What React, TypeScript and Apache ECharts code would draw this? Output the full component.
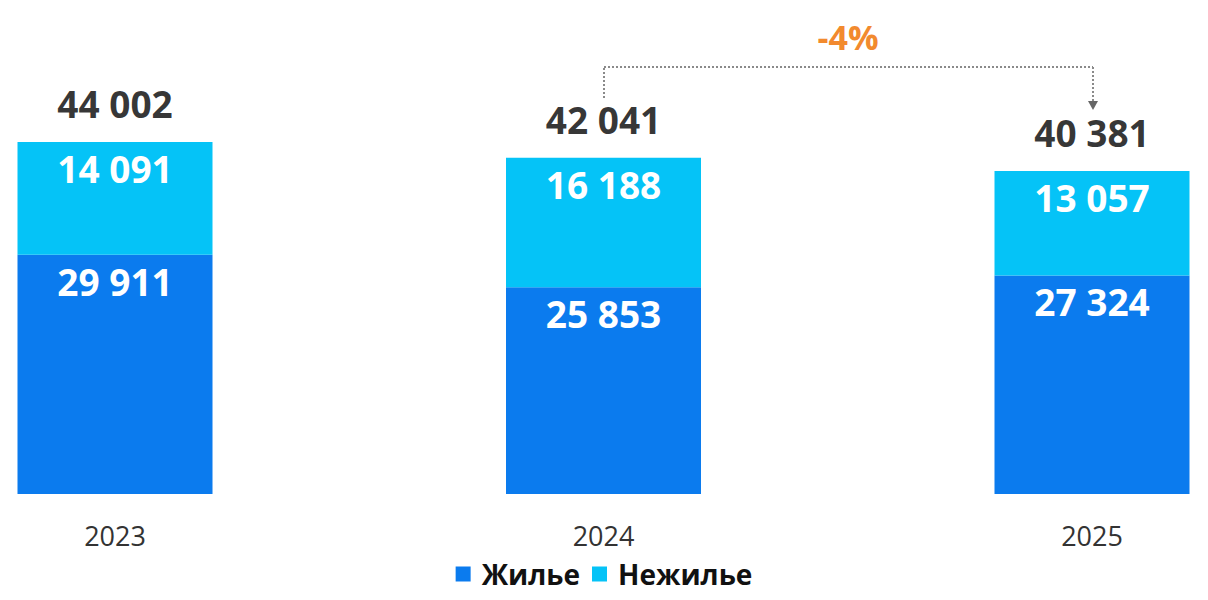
import React, { useEffect, useRef } from "react";
import * as echarts from "echarts";

const years = ["2023", "2024", "2025"];
const residential = [29911, 25853, 27324];
const nonResidential = [14091, 16188, 13057];
const totals = [44002, 42041, 40381];
const changeLabel = "-4%";

const fmt = (v: number) => String(v).replace(/\B(?=(\d{3})+(?!\d))/g, " ");
const FONT = "'Open Sans', 'DejaVu Sans', sans-serif";

export default function App() {
  const ref = useRef<HTMLDivElement>(null);
  useEffect(() => {
    if (!ref.current) return;
    const chart = echarts.init(ref.current, null, { renderer: "svg" });
    const dash = { stroke: "#8a8a8a", lineWidth: 2, lineDash: [2, 2] };
    chart.setOption({
      animation: false,
      textStyle: { fontFamily: FONT },
      grid: { left: 115, right: 116, top: 94, bottom: 106 },
      legend: {
        data: ["Жилье", "Нежилье"],
        bottom: 7,
        left: "center",
        icon: "rect",
        itemWidth: 15,
        itemHeight: 15,
        itemGap: 12,
        textStyle: { fontFamily: FONT, fontSize: 28, fontWeight: "bold", color: "#111", padding: [0, 0, 0, 6] },
      },
      xAxis: {
        type: "category",
        data: years,
        boundaryGap: false,
        axisLine: { show: false },
        axisTick: { show: false },
        axisLabel: { color: "#333", fontSize: 27, margin: 28, fontFamily: FONT },
      },
      yAxis: { type: "value", min: 0, max: 50000, show: false, splitLine: { show: false } },
      series: [
        {
          name: "Жилье",
          type: "bar",
          stack: "total",
          barWidth: 195,
          clip: false,
          data: residential,
          itemStyle: { color: "#0B7BEE" },
          label: {
            show: true,
            position: "insideTop",
            distance: 8,
            color: "#fff",
            fontSize: 37,
            fontWeight: "bold",
            fontFamily: FONT,
            formatter: (p: any) => fmt(p.value),
          },
        },
        {
          name: "Нежилье",
          type: "bar",
          stack: "total",
          barWidth: 195,
          clip: false,
          data: nonResidential,
          itemStyle: { color: "#05C3F7" },
          label: {
            show: true,
            position: "insideTop",
            distance: 8,
            color: "#fff",
            fontSize: 37,
            fontWeight: "bold",
            fontFamily: FONT,
            formatter: (p: any) => fmt(p.value),
          },
        },
        {
          name: "Итого",
          type: "scatter",
          data: totals,
          symbolSize: 0,
          clip: false,
          itemStyle: { color: "#000" },
          label: {
            show: true,
            position: "top",
            distance: 20,
            color: "#000",
            fontSize: 37,
            fontWeight: "bold",
            fontFamily: FONT,
            formatter: (p: any) => fmt(p.value),
          },
        },
      ],
      graphic: [
        { type: "line", shape: { x1: 604, y1: 98, x2: 604, y2: 67 }, style: dash },
        { type: "line", shape: { x1: 604, y1: 67, x2: 1093, y2: 67 }, style: dash },
        { type: "line", shape: { x1: 1093, y1: 67, x2: 1093, y2: 102 }, style: dash },
        {
          type: "polygon",
          shape: { points: [[1088, 101], [1098, 101], [1093, 110]] },
          style: { fill: "#666" },
        },
        {
          type: "text",
          x: 848,
          y: 37,
          style: {
            text: changeLabel,
            fill: "#F28A2E",
            fontSize: 34,
            fontWeight: "bold",
            fontFamily: FONT,
            align: "center",
            verticalAlign: "middle",
          },
        },
      ],
    });
    return () => chart.dispose();
  }, []);
  return (
    <div
      ref={ref}
      style={{ position: "fixed", left: 0, top: 0, width: 1208, height: 600, background: "#fff" }}
    />
  );
}
